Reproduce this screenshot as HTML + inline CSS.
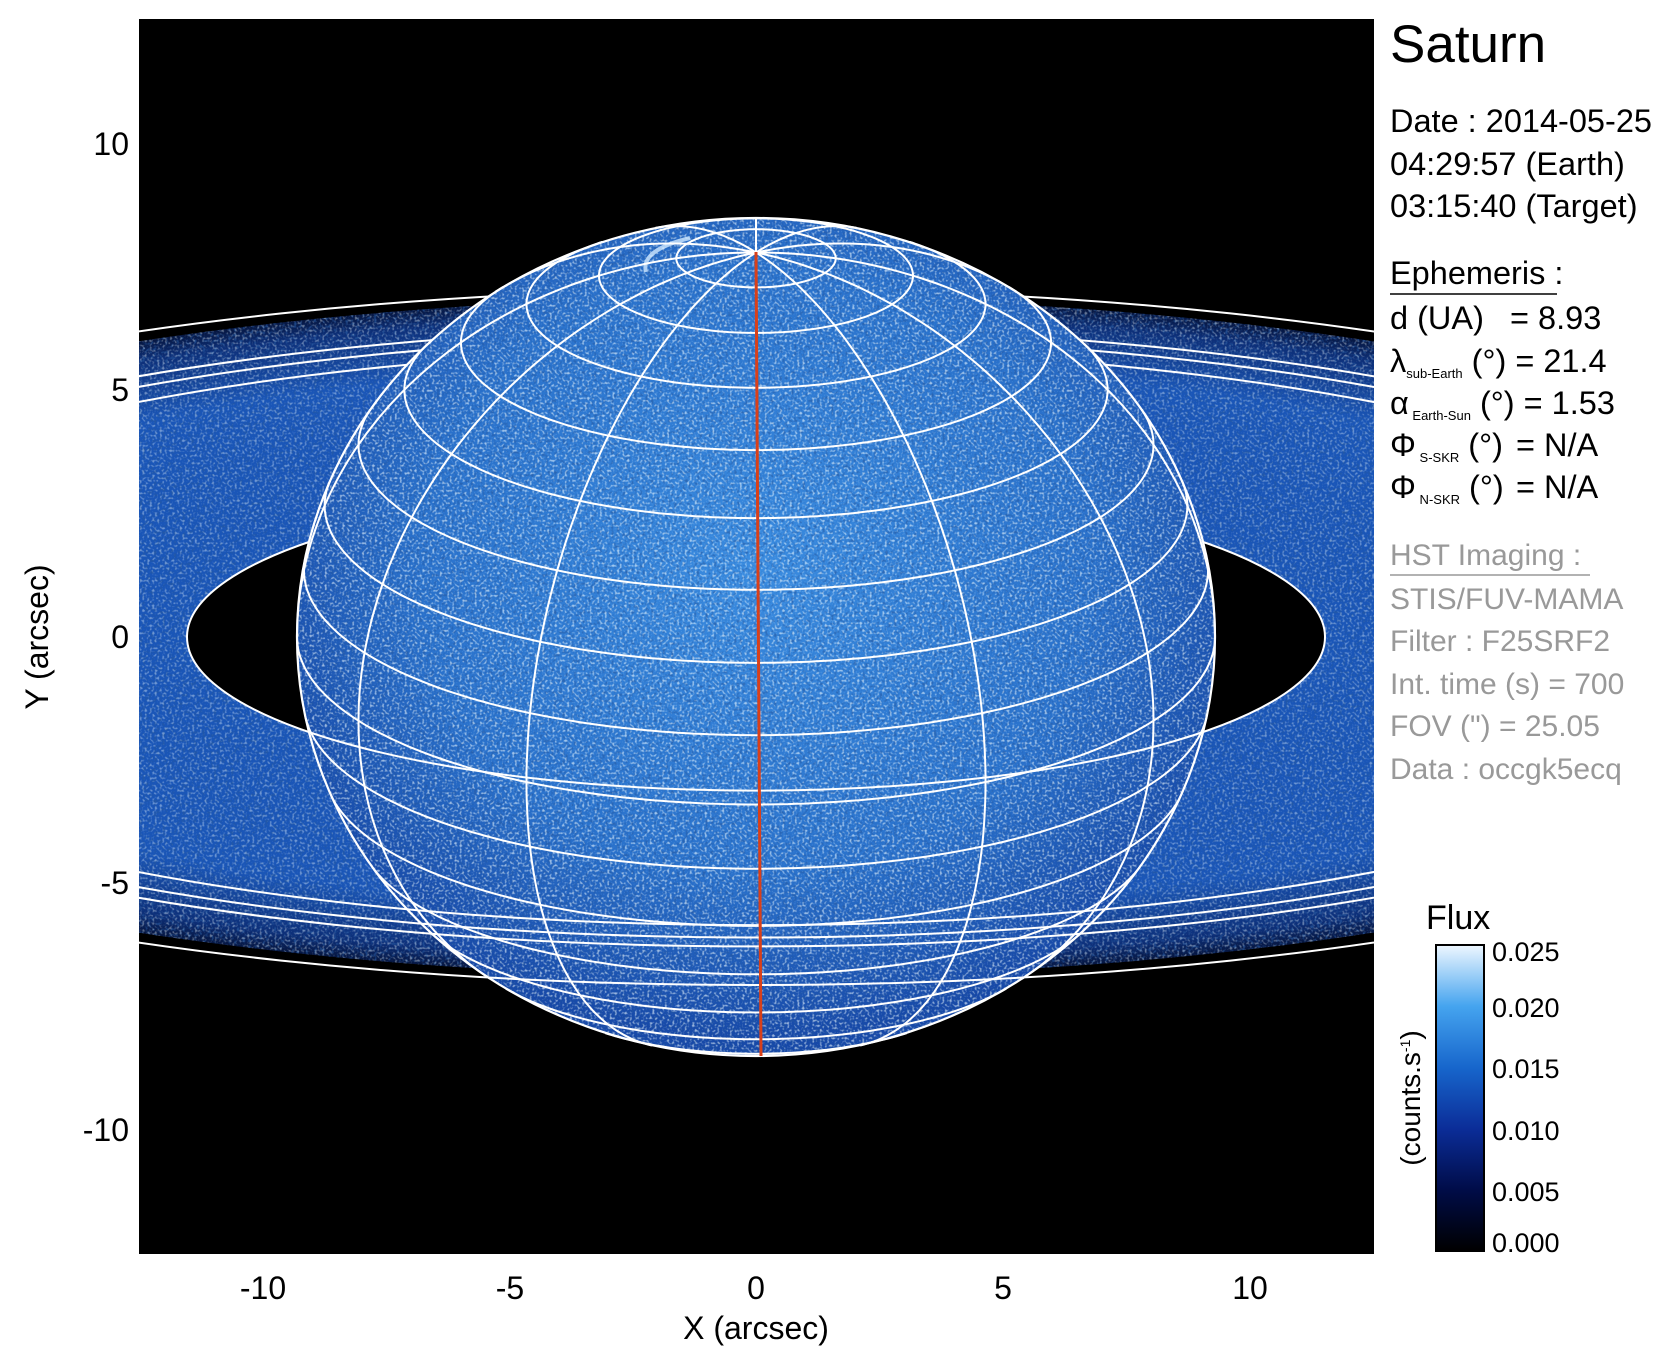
<!DOCTYPE html>
<html><head><meta charset="utf-8"><style>
html,body{margin:0;padding:0;background:#fff;}
svg{display:block;}
text{font-family:"Liberation Sans",sans-serif;}
</style></head><body>
<svg id="s" width="1676" height="1367" viewBox="0 0 1676 1367" xmlns="http://www.w3.org/2000/svg">
<defs>
<clipPath id="plot"><rect x="139" y="19" width="1235" height="1235"/></clipPath>
<clipPath id="pl"><ellipse cx="756" cy="637" rx="459" ry="419"/></clipPath>
<clipPath id="rg"><path clip-rule="evenodd" d="M 2006 637 A 1250 340 0 1 0 -494 637 A 1250 340 0 1 0 2006 637 Z M 1325 637 A 569 154 0 1 1 187 637 A 569 154 0 1 1 1325 637 Z"/></clipPath>
<radialGradient id="pg" cx="0.5" cy="0.42" r="0.56">
<stop offset="0" stop-color="#3a8ce0"/><stop offset="0.65" stop-color="#2a72cc"/><stop offset="1" stop-color="#1749a8"/>
</radialGradient>
<radialGradient id="rgg" cx="0.5" cy="0.5" r="0.5">
<stop offset="0.45" stop-color="#1a56b8"/><stop offset="0.8" stop-color="#1a56b8"/><stop offset="0.95" stop-color="#0d2f78"/><stop offset="1" stop-color="#061640"/>
</radialGradient>
<linearGradient id="cb" x1="0" y1="1" x2="0" y2="0">
<stop offset="0" stop-color="#000"/><stop offset="0.2" stop-color="#000c48"/><stop offset="0.4" stop-color="#0b2d98"/>
<stop offset="0.6" stop-color="#1766cc"/><stop offset="0.8" stop-color="#45a4ef"/><stop offset="1" stop-color="#eef7ff"/>
</linearGradient>
<filter id="sp" x="0" y="0" width="100%" height="100%">
<feTurbulence type="fractalNoise" baseFrequency="0.4" numOctaves="1" seed="3"/>
<feColorMatrix type="matrix" values="0 0 0 0 0.85  0 0 0 0 0.95  0 0 0 0 1  4 0 0 0 -2"/>
</filter>
<filter id="dk" x="0" y="0" width="100%" height="100%">
<feTurbulence type="fractalNoise" baseFrequency="0.35" numOctaves="1" seed="9"/>
<feColorMatrix type="matrix" values="0 0 0 0 0.02  0 0 0 0 0.1  0 0 0 0 0.35  4 0 0 0 -2"/>
</filter>
</defs>
<rect x="139" y="19" width="1235" height="1235" fill="#000"/>
<g clip-path="url(#plot)">
<g clip-path="url(#rg)">
<rect x="-494" y="297" width="2500" height="680" fill="url(#rgg)"/>
<rect x="139" y="297" width="1235" height="680" fill="#000" filter="url(#dk)" opacity="0.7"/>
<rect x="139" y="297" width="1235" height="680" fill="#fff" filter="url(#sp)" opacity="0.4"/>
</g>
<g id="ringsBack" fill="none" stroke="#fff" stroke-width="2"></g>
<ellipse cx="756" cy="637" rx="459" ry="419" fill="url(#pg)"/>
<g clip-path="url(#pl)">
<rect x="297" y="218" width="918" height="838" fill="#000" filter="url(#dk)" opacity="0.6"/>
<rect x="297" y="218" width="918" height="838" fill="#fff" filter="url(#sp)" opacity="0.6"/>
</g>
<path d="M 646 272 Q 640 250 690 238" stroke="#cfe8ff" stroke-width="4" fill="none" opacity="0.8"/>
<g id="grid" fill="none" stroke="#fff" stroke-width="2"></g>
<ellipse cx="756" cy="637" rx="459" ry="419" fill="none" stroke="#fff" stroke-width="2.2"/>
<g id="ringsFront" fill="none" stroke="#fff" stroke-width="2"></g>
<line x1="756" y1="252" x2="761" y2="1056" stroke="#d8401a" stroke-width="3"/>
</g>
<g font-size="32" fill="#000" text-anchor="end">
<text x="129" y="155">10</text><text x="129" y="401">5</text><text x="129" y="648">0</text>
<text x="129" y="894">-5</text><text x="129" y="1141">-10</text>
</g>
<g font-size="32" fill="#000" text-anchor="middle">
<text x="263" y="1299">-10</text><text x="510" y="1299">-5</text><text x="756" y="1299">0</text>
<text x="1003" y="1299">5</text><text x="1250" y="1299">10</text>
<text x="756" y="1339">X (arcsec)</text>
<text transform="translate(48,637) rotate(-90)">Y (arcsec)</text>
</g>
<g fill="#000" font-size="32.5">
<text x="1390" y="62" font-size="53">Saturn</text>
<text x="1390" y="132">Date : 2014-05-25</text>
<text x="1390" y="175">04:29:57 (Earth)</text>
<text x="1390" y="217">03:15:40 (Target)</text>
<text x="1390" y="284">Ephemeris :</text>
<line x1="1390" y1="294" x2="1557" y2="294" stroke="#000" stroke-width="1.5"/>
<text x="1390" y="329">d (UA)<tspan x="1510">= 8.93</tspan></text>
<text x="1390" y="372">λ<tspan font-size="13" dy="6">sub-Earth</tspan><tspan dy="-6"> (°) = 21.4</tspan></text>
<text x="1390" y="414">α<tspan font-size="13" dy="6"> Earth-Sun</tspan><tspan dy="-6"> (°) = 1.53</tspan></text>
<text x="1390" y="456">Φ<tspan font-size="13" dy="6"> S-SKR</tspan><tspan dy="-6"> (°)</tspan><tspan x="1516">= N/A</tspan></text>
<text x="1390" y="498">Φ<tspan font-size="13" dy="6"> N-SKR</tspan><tspan dy="-6"> (°)</tspan><tspan x="1516">= N/A</tspan></text>
</g>
<g fill="#999" font-size="30">
<text x="1390" y="565">HST Imaging :</text>
<line x1="1390" y1="575" x2="1590" y2="575" stroke="#999" stroke-width="1.5"/>
<text x="1390" y="609">STIS/FUV-MAMA</text>
<text x="1390" y="651">Filter : F25SRF2</text>
<text x="1390" y="694">Int. time (s) = 700</text>
<text x="1390" y="736">FOV (") = 25.05</text>
<text x="1390" y="779">Data : occgk5ecq</text>
</g>
<text x="1426" y="929" font-size="34" fill="#000">Flux</text>
<rect x="1436" y="945" width="48" height="306" fill="url(#cb)" stroke="#000" stroke-width="2"/>
<g font-size="27" fill="#000">
<text x="1492" y="961">0.025</text><text x="1492" y="1017">0.020</text><text x="1492" y="1078">0.015</text>
<text x="1492" y="1140">0.010</text><text x="1492" y="1201">0.005</text><text x="1492" y="1252">0.000</text>
</g>
<text transform="translate(1420,1098) rotate(-90)" font-size="28" text-anchor="middle" fill="#000">(counts.s<tspan font-size="14" dy="-10">-1</tspan><tspan dy="10">)</tspan></text>
</svg>
<script>
(function(){
var NS="http://www.w3.org/2000/svg";
var cx=756,cy=637,a=459,b=413,B=21.4*Math.PI/180,sB=Math.sin(B),cB=Math.cos(B);
function P(phi,lam){var X=a*Math.cos(phi)*Math.sin(lam),Y=b*Math.sin(phi),Z=a*Math.cos(phi)*Math.cos(lam);
return {x:cx+X,y:cy-(Y*cB-Z*sB),v:(Y*sB/(b*b)+Z*cB/(a*a))>0};}
var g=document.getElementById("grid");
function add(par,d){var p=document.createElementNS(NS,"path");p.setAttribute("d",d);par.appendChild(p);}
function curve(f,n){var d="",pen=false;for(var i=0;i<=n;i++){var q=f(i/n);if(q.v){d+=(pen?"L":"M")+q.x.toFixed(1)+" "+q.y.toFixed(1)+" ";pen=true;}else pen=false;}return d;}
var r=Math.PI/180;
for(var la=-80;la<=80;la+=10){(function(la){add(g,curve(function(t){return P(la*r,(t*360-180)*r);},360));})(la);}
for(var lo=-180;lo<180;lo+=30){if(lo==0)continue;(function(lo){add(g,curve(function(t){return P((t*180-90)*r,lo*r);},180));})(lo);}
var rings=[1067,1113,1146,1289,569],k=0.27;
var gb=document.getElementById("ringsBack"),gf=document.getElementById("ringsFront");
rings.forEach(function(R){var ry=R*k;
add(gb,"M "+(cx-R)+" "+cy+" A "+R+" "+ry+" 0 0 1 "+(cx+R)+" "+cy);
add(gf,"M "+(cx-R)+" "+cy+" A "+R+" "+ry+" 0 0 0 "+(cx+R)+" "+cy);});
})();
</script>
</body></html>
